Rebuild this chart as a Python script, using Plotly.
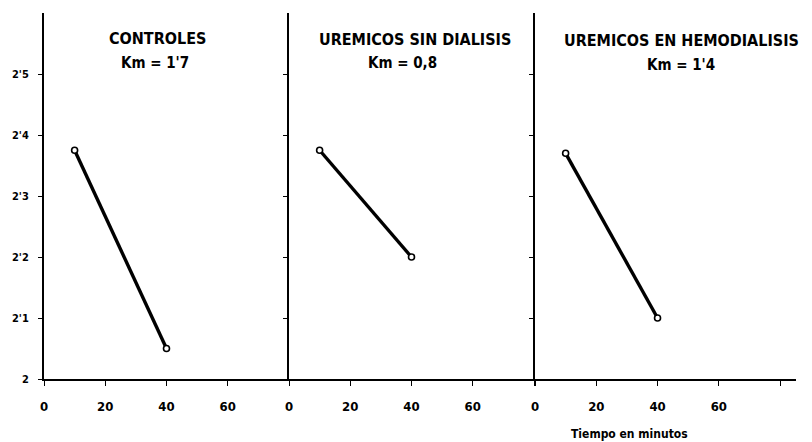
import plotly.graph_objects as go

# Data
panel_titles = ["CONTROLES", "UREMICOS SIN DIALISIS", "UREMICOS EN HEMODIALISIS"]
km_labels = ["Km = 1'7", "Km = 0,8", "Km = 1'4"]
time_min = [10, 40]
controles = [2.375, 2.05]
sin_dialisis = [2.375, 2.20]
hemodialisis = [2.37, 2.10]
series = [controles, sin_dialisis, hemodialisis]
y_tickvals = [2.0, 2.1, 2.2, 2.3, 2.4, 2.5]
y_ticktext = ["2", "2'1", "2'2", "2'3", "2'4", "2'5"]
x_tickvals = [0, 20, 40, 60, 80]
x_ticktext = ["0", "20", "40", "60", ""]

W, H = 812, 442
L, R, T, B = 44, 16, 13, 63
pw, ph = W - L - R, H - T - B

def px(x):
    return (x - L) / pw

def py(y):
    return (H - B - y) / ph

FONT = "DejaVu Sans Condensed, DejaVu Sans, sans-serif"

fig = go.Figure()
domains = [[0, px(289)], [px(289), px(534)], [px(535), 1.0]]
xranges = [[0, 80], [0, 80], [0, 85.2]]

for i, ys in enumerate(series):
    sfx = "" if i == 0 else str(i + 1)
    fig.add_trace(go.Scatter(
        x=time_min, y=ys, xaxis="x" + sfx, yaxis="y" + sfx,
        mode="lines+markers",
        line=dict(color="black", width=3.4),
        marker=dict(symbol="circle", size=6, color="white",
                    line=dict(color="black", width=1.6)),
        showlegend=False, hoverinfo="skip"))
    fig.layout["xaxis" + sfx] = dict(
        domain=domains[i], range=xranges[i], anchor="y" + sfx,
        showline=True, linecolor="black", linewidth=2,
        showgrid=False, zeroline=False, automargin=False,
        ticks="outside", ticklen=5, tickwidth=1.2, tickcolor="black",
        tickvals=x_tickvals, ticktext=x_ticktext,
        ticklabelstandoff=9,
        tickfont=dict(family=FONT, size=13, color="black", weight="bold"))
    fig.layout["yaxis" + sfx] = dict(
        domain=[0, 1], range=[2.0, 2.6], anchor="x" + sfx,
        showline=True, linecolor="black", linewidth=2,
        showgrid=False, zeroline=False, automargin=False,
        ticks="outside", ticklen=4, tickwidth=1.2, tickcolor="black",
        tickvals=y_tickvals, ticktext=y_ticktext,
        showticklabels=(i == 0), ticklabelstandoff=7,
        tickfont=dict(family=FONT, size=11, color="black", weight="bold"))

title_pos = [(157, 39), (415, 40), (681, 41)]
km_pos = [(155, 63), (402, 63), (681, 65)]
annotations = []
for i in range(3):
    annotations.append(dict(
        x=px(title_pos[i][0]), y=py(title_pos[i][1]), xref="paper", yref="paper",
        text=panel_titles[i], showarrow=False, xanchor="center", yanchor="middle",
        font=dict(family=FONT, size=16, color="black", weight="bold")))
    annotations.append(dict(
        x=px(km_pos[i][0]), y=py(km_pos[i][1]), xref="paper", yref="paper",
        text=km_labels[i], showarrow=False, xanchor="center", yanchor="middle",
        font=dict(family=FONT, size=15, color="black", weight="bold")))
annotations.append(dict(
    x=px(629), y=py(434), xref="paper", yref="paper",
    text="Tiempo en minutos", showarrow=False, xanchor="center", yanchor="middle",
    font=dict(family=FONT, size=12, color="black", weight="bold")))

fig.update_layout(
    width=W, height=H,
    margin=dict(l=L, r=R, t=T, b=B, autoexpand=False),
    paper_bgcolor="white", plot_bgcolor="white",
    annotations=annotations)

fig.write_html(
    "out.html",
    config={"displayModeBar": False},
    post_script="document.body.style.margin='0';document.body.style.padding='0';"
                "document.body.style.overflow='hidden';")
